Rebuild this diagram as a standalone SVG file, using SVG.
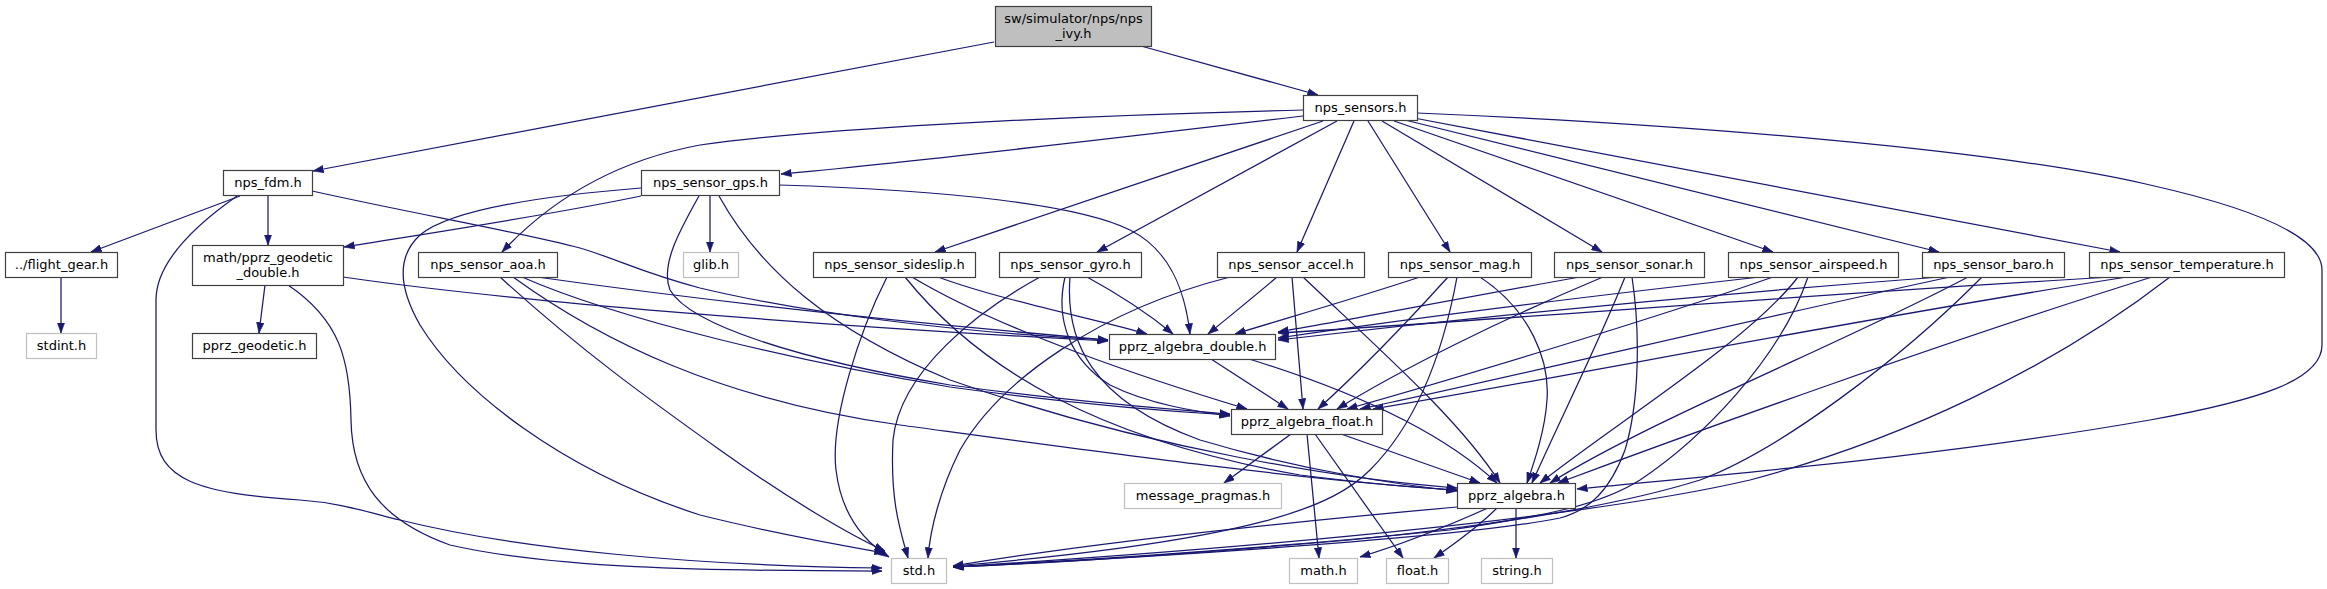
<svg xmlns="http://www.w3.org/2000/svg" width="2327" height="589" viewBox="0 0 2327 589">
<style>
.n rect{fill:#fff;stroke:#404040;stroke-width:1.2}
.n.g rect{stroke:#bfbfbf}
.n.r rect{fill:#bfbfbf}
.n text{font-family:"DejaVu Sans",sans-serif;font-size:13px;fill:#000;text-anchor:middle}
.e path{fill:none;stroke:#191970;stroke-width:1.25;marker-end:url(#a)}
</style>
<defs>
<marker id="a" markerUnits="userSpaceOnUse" markerWidth="11" markerHeight="8" viewBox="0 0 11 8" refX="10.5" refY="4" orient="auto">
<path d="M0,0.3 L10.5,4 L0,7.7 z" fill="#191970" stroke="#191970" stroke-width="0.6"/>
</marker>
</defs>
<rect width="2327" height="589" fill="#fff"/>
<g id="edges" class="e">
<path d="M994,42 L313,171"/>
<path d="M1141,46 L1318,95"/>
<path d="M1303,116 C1100,140 870,166 781,174"/>
<path d="M1303,110 C1050,116 800,130 700,145 C630,158 560,190 502,252"/>
<path d="M1323,121 L935,252"/>
<path d="M1337,121 L1097,252"/>
<path d="M1354,121 L1297,252"/>
<path d="M1368,121 L1450,252"/>
<path d="M1382,121 L1602,252"/>
<path d="M1394,121 L1773,252"/>
<path d="M1405,120 L1939,252"/>
<path d="M1414,118 L2120,252"/>
<path d="M1417,113 C1700,125 2000,150 2150,185 C2270,212 2322,240 2322,270 L2322,345 C2322,380 2260,400 2150,420 C1950,455 1750,472 1577,489"/>
<path d="M240,196 L91,252"/>
<path d="M268,195 L268,245"/>
<path d="M237,196 C200,222 156,260 156,300 L156,430 C156,480 200,494 300,500 C340,503 360,510 400,520 C520,550 700,566 882,568"/>
<path d="M288,285 C340,320 350,360 351,420 C352,480 380,520 450,545 C550,568 700,571 882,571"/>
<path d="M312,191 C420,215 520,232 580,248 C620,260 640,272 700,288 C800,312 950,332 1108,340"/>
<path d="M343,277 C500,300 800,325 1108,341"/>
<path d="M641,196 C550,215 450,230 344,247"/>
<path d="M710,195 L710,252"/>
<path d="M641,188 C540,196 450,210 420,235 C395,258 400,290 420,325 C460,390 560,470 700,515 C780,535 840,545 885,553"/>
<path d="M779,185 C950,190 1080,205 1130,230 C1170,250 1185,290 1190,334"/>
<path d="M699,196 C680,230 660,265 670,290 C690,325 800,360 950,385 C1080,403 1180,410 1230,414"/>
<path d="M719,196 C760,270 830,330 950,380 C1150,450 1350,480 1457,488"/>
<path d="M537,277 C700,300 900,322 1108,340"/>
<path d="M522,277 C620,320 800,362 950,387 C1080,405 1180,412 1230,415"/>
<path d="M513,277 C600,340 720,400 900,425 C1100,452 1300,480 1457,490"/>
<path d="M500,277 C580,350 650,400 720,450 C790,500 850,535 885,551"/>
<path d="M887,277 C860,330 830,420 836,470 C842,520 870,545 889,557"/>
<path d="M938,277 C1000,300 1100,320 1147,334"/>
<path d="M912,277 C1000,330 1150,380 1247,409"/>
<path d="M905,277 C980,370 1100,440 1300,475 C1380,485 1420,488 1457,490"/>
<path d="M1040,277 C980,310 900,370 893,440 C890,500 900,530 908,558"/>
<path d="M1087,277 C1120,295 1150,315 1173,334"/>
<path d="M1065,277 C1055,320 1070,360 1110,385 C1150,405 1200,412 1230,416"/>
<path d="M1070,277 C1065,340 1090,400 1200,440 C1300,470 1400,485 1457,491"/>
<path d="M1230,277 C1100,310 1000,380 960,450 C940,490 930,530 928,558"/>
<path d="M1277,277 C1250,300 1225,320 1208,334"/>
<path d="M1292,277 L1303,409"/>
<path d="M1303,277 C1380,350 1460,420 1500,483"/>
<path d="M1420,277 C1350,300 1280,320 1235,334"/>
<path d="M1448,277 C1400,330 1350,380 1318,409"/>
<path d="M1457,277 C1440,370 1410,430 1370,470 C1335,505 1260,540 953,566"/>
<path d="M1480,277 C1530,310 1550,360 1547,400 C1545,430 1535,460 1527,483"/>
<path d="M1580,277 C1450,300 1350,320 1278,332"/>
<path d="M1603,277 C1500,320 1400,370 1337,409"/>
<path d="M1625,277 C1600,340 1560,420 1532,483"/>
<path d="M1632,277 C1640,330 1640,400 1625,450 C1610,490 1590,510 1560,518 C1450,540 1100,560 953,567"/>
<path d="M1760,277 C1600,295 1400,320 1278,338"/>
<path d="M1773,277 C1650,320 1450,380 1347,409"/>
<path d="M1798,277 C1750,340 1620,420 1540,483"/>
<path d="M1808,277 C1780,360 1700,440 1640,480 C1600,505 1550,515 1450,530 C1250,550 1050,562 953,567"/>
<path d="M1940,277 C1700,295 1450,320 1278,340"/>
<path d="M1950,277 C1750,320 1500,380 1360,409"/>
<path d="M1968,277 C1850,340 1650,420 1550,483"/>
<path d="M1982,277 C1900,360 1780,450 1700,480 C1620,505 1500,525 1350,540 C1200,553 1050,563 953,567"/>
<path d="M2113,277 C1800,295 1500,320 1278,333"/>
<path d="M2127,277 C1850,320 1550,380 1373,409"/>
<path d="M2152,277 C1950,340 1700,430 1558,483"/>
<path d="M2170,277 C2050,370 1900,440 1750,480 C1600,515 1300,545 953,567"/>
<path d="M1211,359 L1288,409"/>
<path d="M1249,359 C1350,390 1440,430 1497,483"/>
<path d="M1291,434 L1224,483"/>
<path d="M1307,434 L1319,558"/>
<path d="M1315,434 L1403,558"/>
<path d="M1341,434 L1480,483"/>
<path d="M1457,507 C1200,530 1050,550 953,566"/>
<path d="M1488,508 C1450,525 1400,545 1360,557"/>
<path d="M1497,508 C1480,525 1460,540 1434,558"/>
<path d="M1516,508 L1516,558"/>
<path d="M61,277 L61,333"/>
<path d="M265,285 L259,333"/>
</g>
<g id="n_root" class="n r"><rect x="995.5" y="6.5" width="156" height="40"/><text x="1073.5" y="23">sw/simulator/nps/nps</text><text x="1073.5" y="38">_ivy.h</text></g>
<g id="n_sensors" class="n"><rect x="1303.5" y="95.5" width="114" height="25"/><text x="1360.5" y="112">nps_sensors.h</text></g>
<g id="n_fdm" class="n"><rect x="223.5" y="170.5" width="89" height="25"/><text x="268" y="187">nps_fdm.h</text></g>
<g id="n_gps" class="n"><rect x="641.5" y="170.5" width="138" height="25"/><text x="710.5" y="187">nps_sensor_gps.h</text></g>
<g id="n_flight_gear" class="n"><rect x="5.5" y="252.5" width="112" height="25"/><text x="61.5" y="269">../flight_gear.h</text></g>
<g id="n_geodetic_double" class="n"><rect x="192.5" y="245.5" width="151" height="40"/><text x="268" y="262">math/pprz_geodetic</text><text x="268" y="277">_double.h</text></g>
<g id="n_aoa" class="n"><rect x="418.5" y="252.5" width="139" height="25"/><text x="488" y="269">nps_sensor_aoa.h</text></g>
<g id="n_glib" class="n g"><rect x="683.5" y="252.5" width="55" height="25"/><text x="711" y="269">glib.h</text></g>
<g id="n_sideslip" class="n"><rect x="813.5" y="252.5" width="162" height="25"/><text x="894.5" y="269">nps_sensor_sideslip.h</text></g>
<g id="n_gyro" class="n"><rect x="999.5" y="252.5" width="142" height="25"/><text x="1070.5" y="269">nps_sensor_gyro.h</text></g>
<g id="n_accel" class="n"><rect x="1217.5" y="252.5" width="147" height="25"/><text x="1291" y="269">nps_sensor_accel.h</text></g>
<g id="n_mag" class="n"><rect x="1388.5" y="252.5" width="143" height="25"/><text x="1460" y="269">nps_sensor_mag.h</text></g>
<g id="n_sonar" class="n"><rect x="1554.5" y="252.5" width="150" height="25"/><text x="1629.5" y="269">nps_sensor_sonar.h</text></g>
<g id="n_airspeed" class="n"><rect x="1728.5" y="252.5" width="170" height="25"/><text x="1813.5" y="269">nps_sensor_airspeed.h</text></g>
<g id="n_baro" class="n"><rect x="1922.5" y="252.5" width="142" height="25"/><text x="1993.5" y="269">nps_sensor_baro.h</text></g>
<g id="n_temperature" class="n"><rect x="2089.5" y="252.5" width="195" height="25"/><text x="2187" y="269">nps_sensor_temperature.h</text></g>
<g id="n_stdint" class="n g"><rect x="26.5" y="333.5" width="70" height="25"/><text x="61.5" y="350">stdint.h</text></g>
<g id="n_pprz_geodetic" class="n"><rect x="192.5" y="333.5" width="124" height="25"/><text x="254.5" y="350">pprz_geodetic.h</text></g>
<g id="n_double" class="n"><rect x="1109.5" y="334.5" width="166" height="25"/><text x="1192.5" y="351">pprz_algebra_double.h</text></g>
<g id="n_float" class="n"><rect x="1231.5" y="409.5" width="151" height="25"/><text x="1307" y="426">pprz_algebra_float.h</text></g>
<g id="n_message_pragmas" class="n g"><rect x="1124.5" y="483.5" width="157" height="25"/><text x="1203" y="500">message_pragmas.h</text></g>
<g id="n_pprz_algebra" class="n"><rect x="1457.5" y="483.5" width="118" height="25"/><text x="1516.5" y="500">pprz_algebra.h</text></g>
<g id="n_std" class="n g"><rect x="891.5" y="558.5" width="55" height="25"/><text x="919" y="575">std.h</text></g>
<g id="n_math" class="n g"><rect x="1289.5" y="558.5" width="68" height="25"/><text x="1323.5" y="575">math.h</text></g>
<g id="n_float_h" class="n g"><rect x="1386.5" y="558.5" width="62" height="25"/><text x="1417.5" y="575">float.h</text></g>
<g id="n_string" class="n g"><rect x="1481.5" y="558.5" width="71" height="25"/><text x="1517" y="575">string.h</text></g>
</svg>
